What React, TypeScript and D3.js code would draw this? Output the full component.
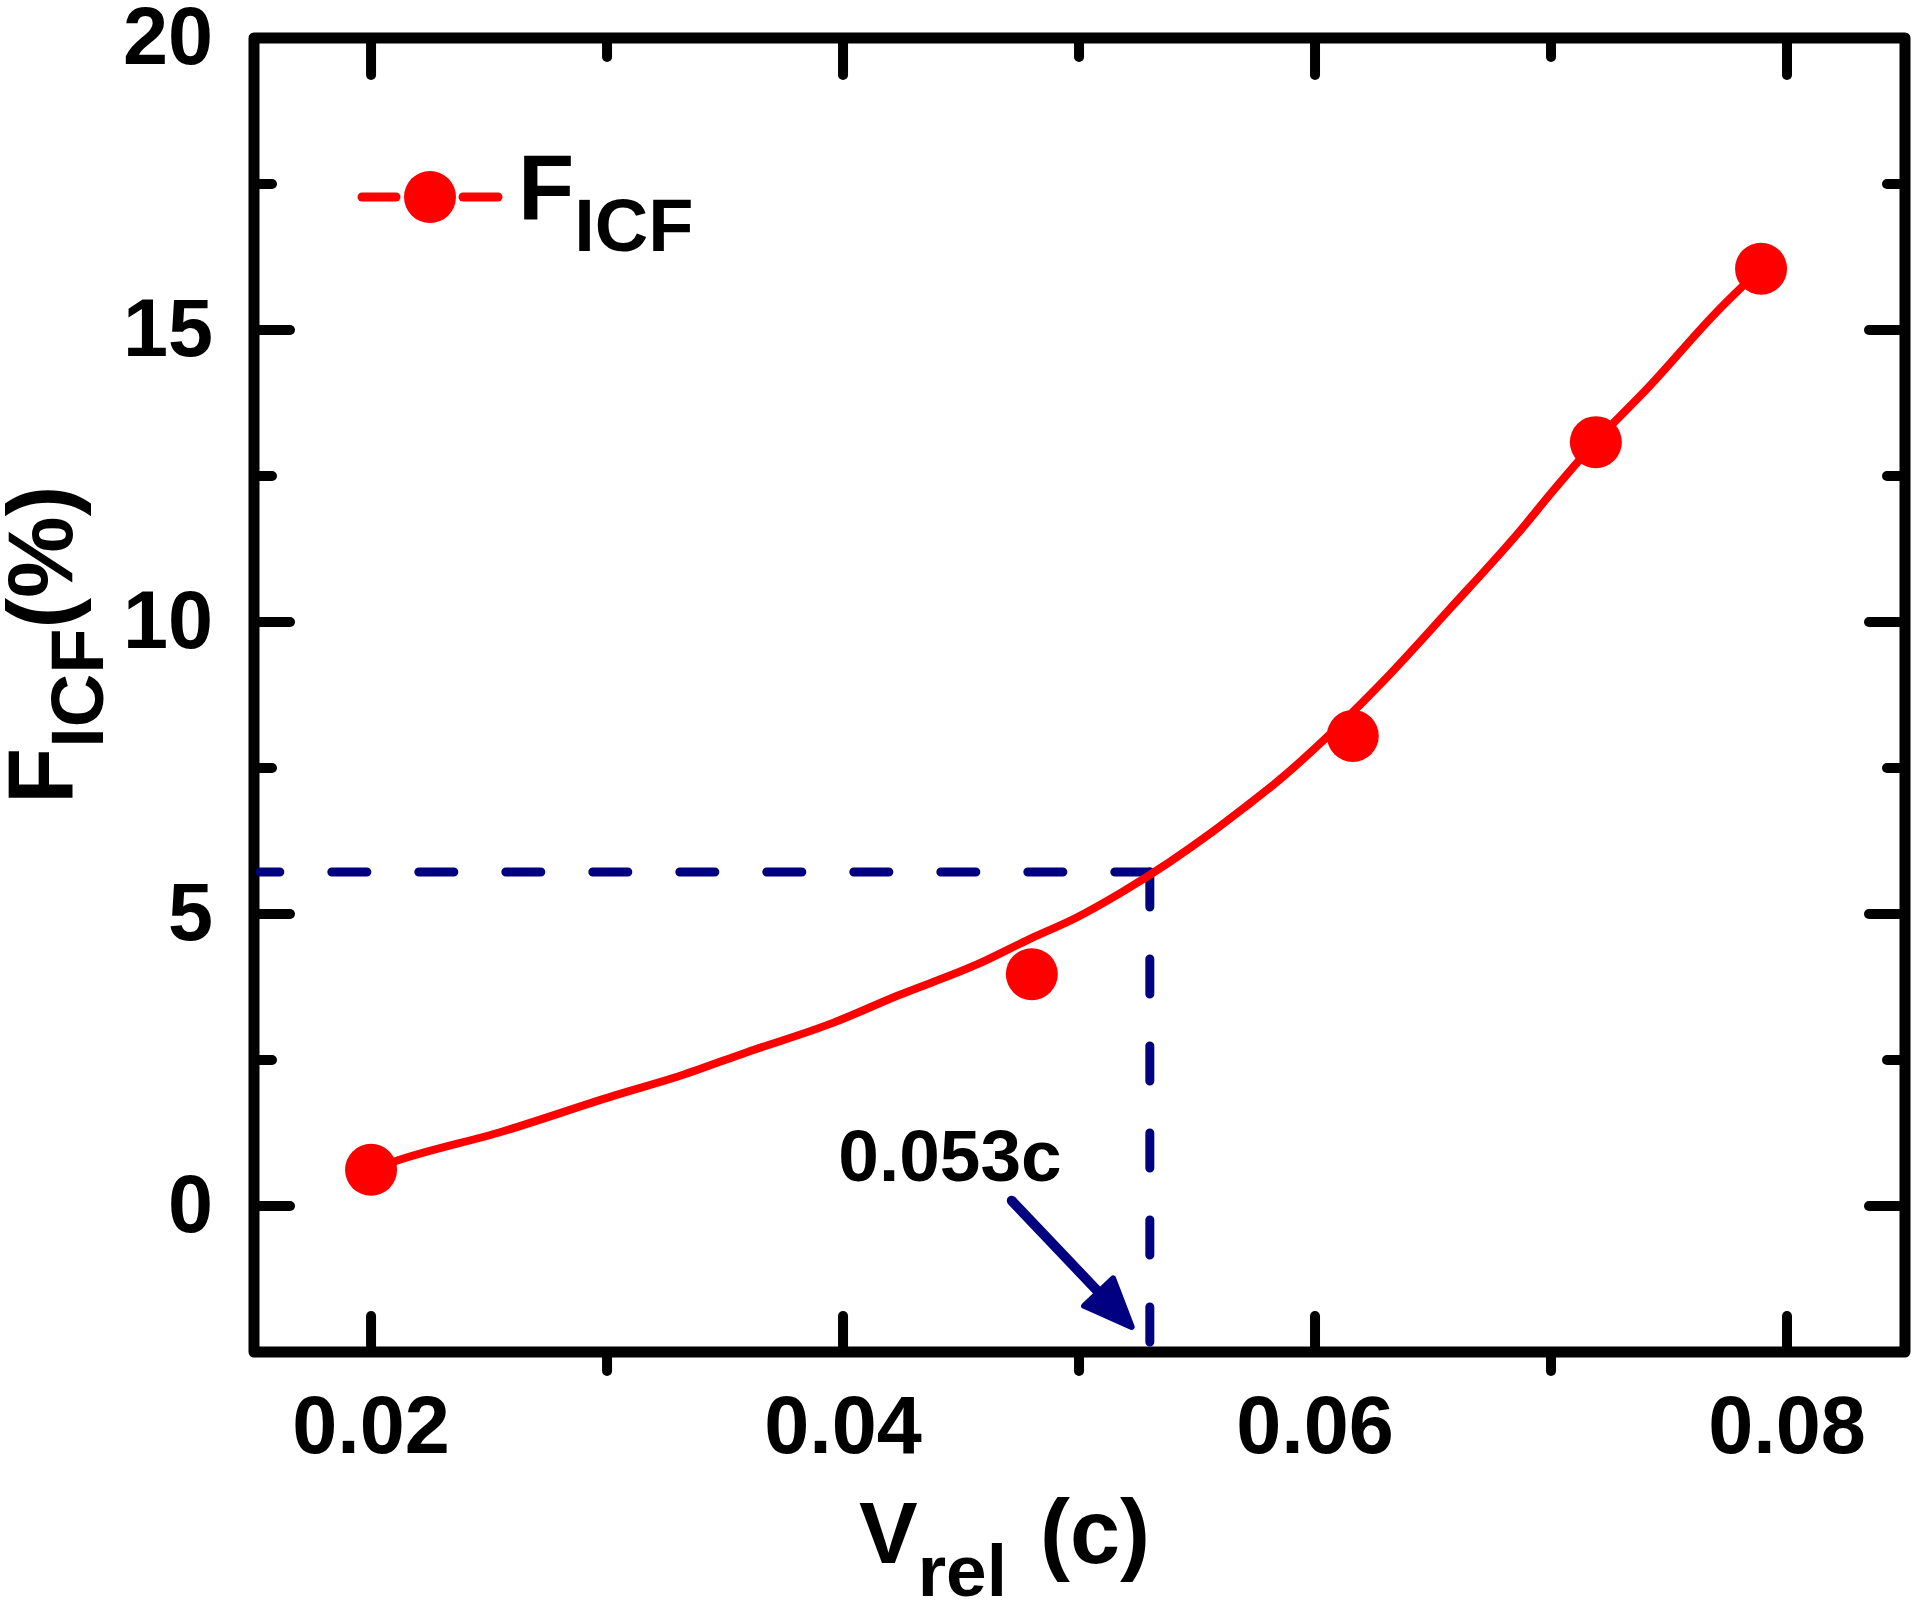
import * as d3 from 'd3';

// measured points
const vRel = [0.0200, 0.0480, 0.0616, 0.0719, 0.0789];
const fIcf = [0.62, 3.97, 8.05, 13.08, 16.05];

// fitted curve
const fitV = [0.0200, 0.0209, 0.0256, 0.0303, 0.0331, 0.0359, 0.0396, 0.0423, 0.0457, 0.0479, 0.0499, 0.0518, 0.0538, 0.0556, 0.0570, 0.0585, 0.0604, 0.0620, 0.0629, 0.0657, 0.0686, 0.0702, 0.0719, 0.0742, 0.0770, 0.0789];
const fitF = [0.62, 0.75, 1.28, 1.89, 2.23, 2.63, 3.14, 3.60, 4.14, 4.57, 4.94, 5.37, 5.88, 6.39, 6.82, 7.30, 7.99, 8.62, 8.99, 10.22, 11.52, 12.30, 13.09, 14.05, 15.30, 16.05];

const xMajor = [0.02, 0.04, 0.06, 0.08];
const xMinor = [0.03, 0.05, 0.07];
const yMajor = [0, 5, 10, 15, 20];
const yMinor = [2.5, 7.5, 12.5, 17.5];

const markV = 0.053;
const markF = 5.72;
const noteLabel = '0.053c';
const noteAt = { v: 0.0398, f: 0.43 };
const arrowFrom = { v: 0.04715, f: 0.09 };
const arrowTo = { v: 0.05223, f: -2.07 };

const W = 1914;
const H = 1601;
const left = 254, right = 1905, top = 38, bottom = 1352;
const RED = '#ff0000';
const NAVY = '#000080';
const FONT = 'Arial, "Liberation Sans", sans-serif';

export default function App() {
  const x = d3.scaleLinear().domain([0.01504, 0.085]).range([left, right]);
  const y = d3.scaleLinear().domain([-2.5, 20]).range([bottom, top]);

  const fitPath = d3.line<number>()
    .x((d) => x(d))
    .y((_, i) => y(fitF[i]))
    .curve(d3.curveMonotoneX)(fitV) || '';

  const fmt = d3.format('.2f');

  // arrow head
  const ax1 = x(arrowFrom.v), ay1 = y(arrowFrom.f);
  const ax2 = x(arrowTo.v), ay2 = y(arrowTo.f);
  const len = Math.hypot(ax2 - ax1, ay2 - ay1);
  const ux = (ax2 - ax1) / len, uy = (ay2 - ay1) / len;
  const headL = 48, headW = 20;
  const bx = ax2 - ux * headL, by = ay2 - uy * headL;
  const head = `M${ax2},${ay2}L${bx - uy * headW},${by + ux * headW}L${bx + uy * headW},${by - ux * headW}Z`;

  const mx = x(markV), my = y(markF);

  return (
    <svg width={W} height={H} style={{ position: 'absolute', left: 0, top: 0, background: '#fff' }} fontFamily={FONT} fontWeight="bold">
      <rect width={W} height={H} fill="#fff" />

      {/* ticks */}
      <g stroke="#000" strokeWidth={10} strokeLinecap="round">
        {xMajor.map((t) => (
          <g key={'xM' + t}>
            <line x1={x(t)} x2={x(t)} y1={bottom} y2={bottom - 36} />
            <line x1={x(t)} x2={x(t)} y1={top} y2={top + 37} />
          </g>
        ))}
        {xMinor.map((t) => (
          <g key={'xm' + t}>
            <line x1={x(t)} x2={x(t)} y1={bottom} y2={bottom + 19} />
            <line x1={x(t)} x2={x(t)} y1={top} y2={top + 19} />
          </g>
        ))}
        {yMajor.map((t) => (
          <g key={'yM' + t}>
            <line x1={left} x2={left + 36} y1={y(t)} y2={y(t)} />
            <line x1={right} x2={right - 36} y1={y(t)} y2={y(t)} />
          </g>
        ))}
        {yMinor.map((t) => (
          <g key={'ym' + t}>
            <line x1={left} x2={left + 18} y1={y(t)} y2={y(t)} />
            <line x1={right} x2={right - 18} y1={y(t)} y2={y(t)} />
          </g>
        ))}
      </g>

      {/* frame */}
      <rect x={left} y={top} width={right - left} height={bottom - top} fill="none" stroke="#000" strokeWidth={11} strokeLinejoin="round" />

      {/* tick labels */}
      {xMajor.map((t) => (
        <text key={'xl' + t} x={x(t)} y={1453} fontSize={81} textAnchor="middle">{fmt(t)}</text>
      ))}
      {yMajor.map((t) => (
        <text key={'yl' + t} x={213} y={y(t) + 26} fontSize={81} textAnchor="end">{t}</text>
      ))}

      {/* guide lines */}
      <g stroke={NAVY} strokeWidth={9} strokeLinecap="round" strokeDasharray="35 52" fill="none">
        <line x1={mx} y1={my} x2={left + 6} y2={my} />
        <line x1={mx} y1={my} x2={mx} y2={bottom - 4} />
      </g>

      {/* fit curve and points */}
      <path d={fitPath} fill="none" stroke={RED} strokeWidth={8} strokeLinejoin="round" />
      {vRel.map((v, i) => (
        <circle key={'p' + i} cx={x(v)} cy={y(fIcf[i])} r={26} fill={RED} />
      ))}

      {/* annotation */}
      <text x={x(noteAt.v)} y={y(noteAt.f)} fontSize={73}>{noteLabel}</text>
      <line x1={ax1} y1={ay1} x2={bx} y2={by} stroke={NAVY} strokeWidth={10} strokeLinecap="round" />
      <path d={head} fill={NAVY} stroke={NAVY} strokeWidth={6} strokeLinejoin="round" />

      {/* legend */}
      <g stroke={RED} strokeWidth={9} strokeLinecap="round">
        <line x1={362} x2={396} y1={197} y2={197} />
        <line x1={463} x2={498} y1={197} y2={197} />
      </g>
      <circle cx={430} cy={197} r={26} fill={RED} />
      <text x={518} y={219} fontSize={92}>
        F<tspan fontSize={74} dy={32}>ICF</tspan>
      </text>

      {/* axis titles */}
      <text x={859} y={1563} fontSize={88}>
        V<tspan fontSize={73} dy={33}>rel</tspan>
        <tspan fontSize={90} dy={-33} dx={8}> (c)</tspan>
      </text>
      <text transform="translate(72,804) rotate(-90)" fontSize={92}>
        F<tspan fontSize={74} dy={31}>ICF</tspan>
        <tspan dy={-31}>(%)</tspan>
      </text>
    </svg>
  );
}
